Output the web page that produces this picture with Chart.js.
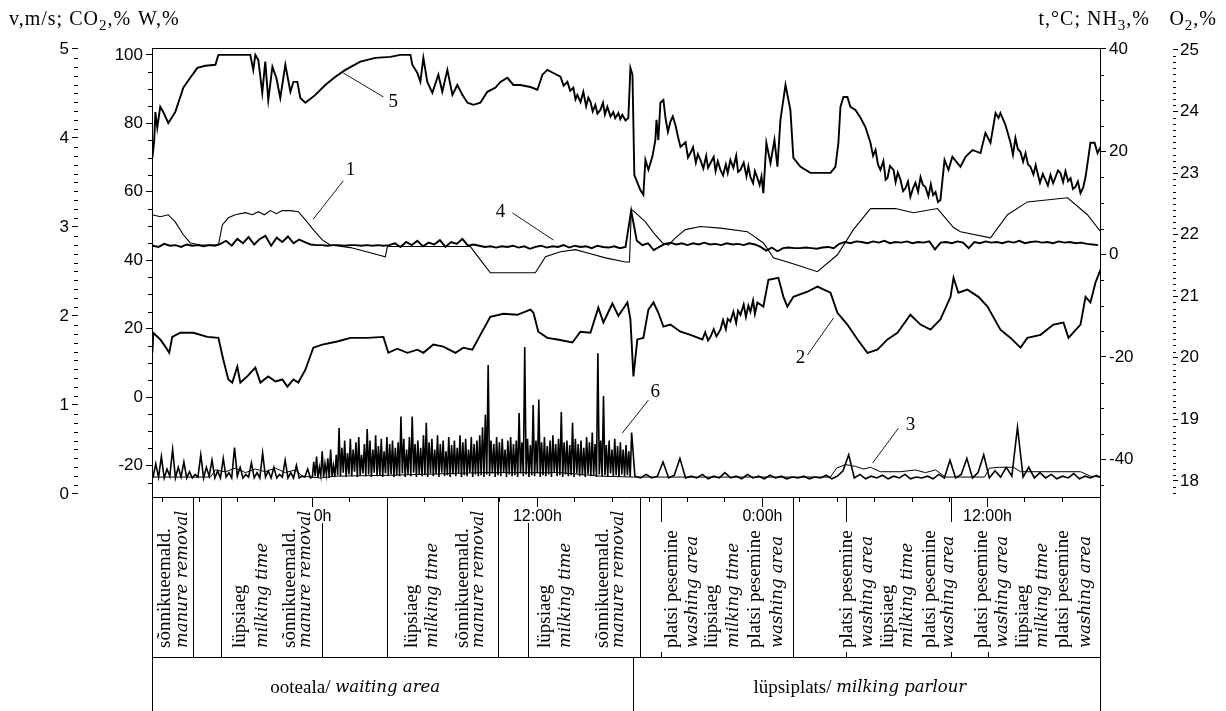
<!DOCTYPE html>
<html>
<head>
<meta charset="utf-8">
<script src="https://cdn.jsdelivr.net/npm/chart.js"></script>
<style>
  body { margin: 0; background: #fff; }
  #wrap { position: relative; width: 1226px; height: 711px; overflow: hidden; }
  #chart { display: block; }
  .ttl { position: absolute; top: 7px; line-height: 22px; font-family: "Liberation Serif", serif; font-size: 20px; letter-spacing: 1px; color: #000; white-space: nowrap; }
  .ttl sub { font-size: 15px; vertical-align: -5px; line-height: 0; }
</style>
</head>
<body>
<div id="wrap">
  <canvas id="chart" width="1226" height="711"></canvas>
  <div class="ttl" style="left:9px">v,m/s; CO<sub>2</sub>,%</div>
  <div class="ttl" style="left:138px">W,%</div>
  <div class="ttl" style="right:76px">t,°C; NH<sub>3</sub>,%</div>
  <div class="ttl" style="right:9px">O<sub>2</sub>,%</div>
</div>
<script>
// x is time in hours counted from the first midnight; the waiting-area run and
// the milking-parlour run are drawn one after the other on the same time line
const hourTicks = [-8, -6, -4, -2, 0, 2, 4, 6, 8, 10, 12, 14, 16, 18, 20, 22, 24, 26, 28, 30, 32, 34, 36, 38, 40, 42];
const hourLabels = { 0: '\u2003 0h', 12: '12:00h', 24: '0:00h', 36: '12:00h' };
const humTicks = [-20, 0, 20, 40, 60, 80, 100];
const speedTicks = [0, 1, 2, 3, 4, 5];
const tempTicks = [-40, -20, 0, 20, 40];
const o2Ticks = [18, 19, 20, 21, 22, 23, 24, 25];

// curve 5 - W,%
const curve5Time = [-8.53,-8.43,-8.37,-8.27,-8.11,-7.95,-7.68,-7.31,-6.88,-6.51,
  -6.13,-5.71,-5.17,-5.01,-3.31,-3.15,-3.04,-2.88,-2.67,-2.51,
  -2.35,-2.13,-1.92,-1.71,-1.44,-1.17,-1.01,-0.8,-0.64,-0.37,
  0.16,0.69,1.23,1.76,2.56,3.36,4.16,4.69,5.23,5.33,
  5.6,5.76,5.92,6.13,6.4,6.72,6.93,7.2,7.47,7.73,
  8.0,8.27,8.59,8.96,9.33,9.76,10.03,10.4,10.72,11.09,
  11.63,12.0,12.27,12.53,12.85,
  13.23,13.4,13.6,13.75,13.92,14.03,14.13,14.3,14.45,14.6,
  14.72,14.83,14.95,15.09,15.2,15.36,15.5,15.6,15.73,15.9,
  16.05,16.15,16.32,16.42,16.53,16.7,16.85,
  16.96,17.07,17.17,17.49,17.65,17.76,17.92,18.13,18.29,18.35,18.45,18.56,18.72,
  18.83,18.96,19.09,19.22,19.36,19.5,19.63,19.9,20.03,20.16,
  20.3,20.45,20.56,20.69,20.85,21.0,21.1,21.23,21.4,21.5,
  21.62,21.76,21.9,22.05,22.15,22.29,22.45,22.6,22.7,22.83,
  23.0,23.15,23.25,23.36,23.5,23.6,23.73,23.85,23.95,24.05,
  24.21,24.43,24.64,24.8,24.96,25.23,25.49,25.65,26.03,26.56,
  27.09,27.63,27.89,28.05,28.16,28.32,28.53,28.69,28.96,29.23,29.49,
  29.76,29.9,30.03,30.16,30.29,30.45,30.57,30.67,30.8,30.99,
  31.1,31.22,31.36,31.5,31.63,31.76,31.89,32.03,32.16,32.3,
  32.43,32.56,32.69,32.85,32.98,33.1,33.23,33.36,33.49,
  33.71,33.92,34.13,34.56,34.83,35.2,35.63,35.89,36.16,36.43,36.59,36.69,36.96,
  37.23,37.36,37.49,37.62,37.76,37.9,38.03,38.16,38.29,38.45,
  38.57,38.67,38.8,38.95,39.09,39.22,39.36,39.5,39.63,39.76,
  39.89,40.03,40.16,40.3,40.43,40.56,40.69,40.82,40.96,41.1,41.23,
  41.49,41.71,41.87,42.03];
const curve5 = [69.9,75.1,83.3,78.7,84.8,83.3,80.1,83.3,90.4,93.3,
  96.2,96.8,97.1,100,100,95.6,100,98.5,88.9,98.0,
  86.8,96.5,93.3,87.4,97.1,89.2,92.1,92.1,87.4,86.0,
  88.3,91.2,93.6,95.6,98.0,99.1,99.4,100,100,97.1,
  94.7,92.1,99.1,92.1,88.9,94.2,89.2,95.6,88.3,91.2,
  88.3,86.0,85.4,86.0,89.2,90.4,92.1,93.3,91.2,91.2,
  90.6,89.8,94.2,95.6,94.7,
  93.6,91.0,92.1,89.5,90.4,87.0,88.3,86.2,89.2,85.0,
  87.5,86.3,83.5,85.4,82.8,83.9,86.0,82.6,84.8,82.0,
  83.3,81.5,83.0,81.2,82.5,80.8,81.6,
  96.2,94.2,64.9,60.5,59.1,69.3,66.4,70.2,75.1,81.0,75.1,86.0,86.8,
  81.6,77.5,80.4,82.0,79.5,76.0,73.1,74.5,70.0,71.3,
  73.0,68.5,71.0,69.3,66.8,70.5,67.0,68.4,70.2,66.0,
  68.9,66.4,64.8,68.0,65.5,69.3,67.0,70.5,65.8,66.4,
  68.5,64.5,67.4,64.3,62.5,66.0,64.0,62.0,64.5,59.6,
  74.3,68.4,75.1,67.3,81.0,91.2,83.9,69.9,67.3,65.5,
  65.5,65.5,67.3,74.3,84.8,87.7,87.7,84.8,83.9,81.6,78.9,
  74.3,70.5,72.2,68.0,66.4,69.0,63.5,64.0,67.5,66.4,
  62.8,65.6,63.5,60.2,61.1,63.0,58.5,61.0,62.6,60.0,
  64.3,62.0,61.4,58.6,62.2,59.0,59.9,57.0,57.6,
  69.3,66.4,70.2,67.3,70.2,72.2,71.3,77.2,74.3,83.0,81.6,83.0,79.5,
  74.3,70.8,75.7,72.5,71.6,68.8,71.3,68.0,67.3,65.0,
  67.8,65.5,62.6,65.2,63.5,61.8,64.9,62.5,64.3,66.2,
  65.5,62.8,66.0,63.1,64.0,60.8,61.4,63.0,59.6,61.2,64.3,
  74.3,74.3,71.3,73.1];

// curve 2 - right axis
const curve2Time = [-8.53,-8.48,-8.11,-7.84,-7.63,-7.47,-7.04,-6.35,-5.6,-5.01,
  -4.75,-4.48,-4.27,-4.0,-3.84,-3.47,-3.04,-2.77,-2.35,-1.97,
  -1.6,-1.33,-1.01,-0.75,-0.37,0.05,0.53,1.33,2.03,2.93,
  3.79,4.05,4.53,5.07,5.6,5.92,6.45,6.99,7.63,8.05,
  8.53,8.96,9.49,10.19,10.93,11.63,11.79,12.05,12.53,13.07,
  13.87,14.29,14.83,15.25,15.52,16.0,16.32,16.8,16.96,17.12,
  17.33,17.65,17.92,18.19,18.45,18.72,19.09,19.63,20.16,
  20.8,20.95,21.1,21.23,21.4,21.55,21.76,21.9,22.05,22.15,
  22.29,22.45,22.6,22.7,22.83,23.0,23.12,23.25,23.36,23.5,
  23.6,23.73,
  24.05,24.32,24.85,25.12,
  25.33,25.65,26.4,26.93,27.63,28.0,28.53,29.07,29.6,30.13,
  30.67,31.2,31.89,32.43,32.96,33.49,34.03,34.19,34.45,34.93,
  35.52,36.0,36.69,37.23,37.76,38.13,38.83,39.52,40.05,40.32,
  40.96,41.23,41.49,41.76,42.03];
const curve2 = [-19.2,-15.3,-16.6,-18.0,-19.2,-16.1,-15.3,-15.3,-16.1,-16.3,
  -20.5,-24.4,-25.0,-21.9,-25.0,-23.8,-22.1,-25.0,-23.8,-24.8,
  -24.4,-25.8,-24.4,-25.0,-22.5,-18.2,-17.6,-17.0,-16.3,-16.3,
  -16.1,-19.2,-18.4,-19.2,-18.6,-19.2,-17.6,-18.0,-19.2,-18.2,
  -18.6,-15.7,-12.2,-11.6,-11.8,-10.8,-11.4,-15.1,-16.3,-16.6,
  -17.2,-15.1,-15.3,-10.4,-13.3,-9.6,-12.0,-9.4,-12.7,-23.8,
  -16.6,-16.3,-10.8,-9.4,-11.4,-14.1,-13.7,-15.1,-15.7,
  -16.6,-15.2,-16.8,-16.1,-14.6,-16.0,-14.7,-12.8,-14.6,-12.6,
  -13.1,-11.2,-13.4,-11.0,-11.8,-9.8,-12.2,-10.0,-11.2,-9.0,
  -11.6,-9.4,
  -10.2,-5.0,-4.6,-8.3,
  -10.2,-8.3,-7.3,-6.3,-7.5,-11.4,-13.7,-16.6,-19.2,-18.6,
  -16.6,-15.3,-11.8,-13.7,-14.7,-12.7,-8.3,-4.6,-7.5,-6.9,
  -8.3,-10.2,-14.7,-16.3,-18.2,-16.3,-15.7,-13.7,-13.3,-16.3,
  -13.7,-8.3,-9.4,-5.5,-3.0];

// curve 1 - t,°C
const curve1Time = [-8.53,-8.11,-7.68,-7.31,-6.88,-6.51,-5.97,-5.01,-4.8,-4.48,
  -4.11,-3.57,-3.2,-2.88,-2.56,-2.24,-1.92,-1.6,-1.17,-0.75,
  -0.37,0.05,0.53,0.96,2.03,3.09,3.89,4.0,8.43,8.96,
  9.49,11.89,12.43,13.23,14.03,14.83,15.63,16.69,16.91,17.01,
  17.17,17.76,18.19,18.67,18.99,19.36,19.89,20.69,21.76,23.2,
  24.05,24.59,25.76,26.93,28.0,28.85,29.76,31.09,32.05,33.33,
  34.19,34.56,36.16,37.07,38.13,40.27,41.33,42.03];
const curve1 = [7.7,7.3,7.7,6.3,3.8,2.2,1.8,1.8,5.7,7.1,
  7.7,8.1,7.7,8.3,7.7,8.5,7.9,8.5,8.5,8.3,
  6.7,4.8,2.8,1.8,1.3,0.3,-0.5,1.5,1.5,-1.1,
  -3.6,-3.6,-0.5,0.5,0.9,0.1,-0.7,-1.5,-1.5,8.7,
  8.3,6.3,4.2,2.2,1.8,3.2,4.8,5.4,5.1,4.4,
  2.2,-0.7,-2.0,-3.4,-0.1,4.8,8.9,8.9,8.1,8.9,
  5.2,4.4,3.2,7.7,10.2,11.0,7.7,4.4];

// curve 3 - left outer axis
const curve3Time = [-8.53,-5.44,-5.17,-4.64,-4.11,-3.57,-3.04,-2.51,-1.97,-1.44,
  -0.91,-0.53,0.43,1.23,4.16,8.96,13.23,15.36,17.12,27.63,
  27.95,28.43,28.96,29.39,29.76,30.29,31.36,32.16,32.69,33.23,
  33.76,35.84,36.11,36.64,37.39,37.76,40.96,41.49,42.03];
const curve3 = [0.19,0.19,0.27,0.25,0.29,0.24,0.28,0.25,0.29,0.24,
  0.27,0.2,0.18,0.2,0.21,0.24,0.24,0.2,0.19,0.19,
  0.29,0.33,0.31,0.28,0.3,0.25,0.25,0.27,0.24,0.27,
  0.19,0.19,0.29,0.3,0.3,0.25,0.25,0.2,0.19];

// curve 4 - O2,%, read every 0.3 h
const curve4Start = -8.5, curve4Step = 0.3;
const curve4 = [21.82,21.80,21.85,21.82,21.83,21.80,21.84,21.82,21.83,21.81,21.83,21.82,
  21.85,21.90,21.82,21.93,21.86,21.96,21.84,21.93,21.98,21.82,21.95,21.88,21.97,21.86,21.92,21.88,
  21.84,21.83,21.83,21.82,21.83,21.83,21.82,21.83,21.83,21.82,21.83,21.82,21.83,21.82,21.83,
  21.86,21.80,21.88,21.83,21.90,21.81,21.87,21.84,21.91,21.80,21.88,21.85,21.93,21.82,21.84,
  21.82,21.80,21.81,21.79,21.81,21.80,21.82,21.79,21.81,21.77,21.80,21.82,21.79,21.81,21.80,
  21.83,21.79,21.82,21.80,21.81,21.78,21.82,21.80,21.79,21.81,21.78,21.80,
  22.39,
  21.90,21.83,21.86,21.75,21.80,
  21.85,21.87,21.84,21.86,21.83,21.86,21.84,21.87,21.84,21.85,21.83,21.86,21.84,21.85,21.83,21.86,21.84,
  21.80,21.74,21.79,21.73,
  21.78,21.79,21.78,21.78,21.79,21.78,21.77,21.79,21.80,
  21.78,21.85,21.88,21.86,21.89,
  21.88,21.86,21.89,21.87,21.90,21.86,21.88,21.87,21.89,21.86,21.88,21.87,21.89,21.76,21.87,
  21.88,21.86,21.89,21.87,21.78,21.88,21.86,21.89,21.87,21.88,21.86,21.89,21.87,21.90,21.86,
  21.88,21.89,21.87,21.88,21.86,21.89,21.87,21.88,21.86,21.87,21.85,21.84,21.83];

// curve 6 - v,m/s: evening part read every 0.15 h, busy part every 0.075 h,
// milking parlour every 0.3 h
const curve6aStart = -8.5, curve6aStep = 0.15;
const curve6a = [0.18,0.34,0.19,0.42,0.18,0.28,0.2,0.5,0.18,0.3,0.19,0.36,0.18,0.25,0.18,0.22,0.19,0.44,0.18,0.3,0.2,0.38,
  0.18,0.26,0.18,0.4,0.19,0.24,0.18,0.52,0.2,0.3,0.18,0.22,0.19,0.35,0.18,0.24,0.18,0.46,0.19,0.26,
  0.18,0.3,0.18,0.22,0.19,0.38,0.18,0.24,0.18,0.32,0.18,0.2,0.19,0.28,0.18];
const curve6bStart = 0, curve6bStep = 0.075;
const curve6b = [0.19,0.36,0.2,0.42,0.18,0.3,0.21,0.48,0.19,0.34,0.22,0.4,0.18,0.5,0.2,0.32,0.19,0.44,0.21,0.74,
  0.2,0.52,0.24,0.6,0.19,0.46,0.22,0.62,0.2,0.5,0.25,0.58,0.19,0.64,0.21,0.44,0.23,0.56,0.2,0.73,
  0.22,0.6,0.19,0.5,0.24,0.66,0.2,0.54,0.21,0.62,0.19,0.48,0.23,0.64,0.2,0.56,0.22,0.6,0.19,0.52,
  0.21,0.58,0.2,0.87,0.23,0.62,0.19,0.5,0.22,0.64,0.2,0.87,0.24,0.56,0.19,0.6,0.22,0.52,0.2,0.66,
  0.21,0.8,0.19,0.58,0.23,0.62,0.2,0.5,0.22,0.66,0.19,0.56,0.24,0.6,0.2,0.48,0.21,0.64,0.19,0.55,
  0.22,0.6,0.2,0.52,0.23,0.66,0.19,0.58,0.21,0.62,0.2,0.5,0.24,0.64,0.19,0.56,0.22,0.6,0.2,0.66,
  0.21,0.75,0.19,0.89,0.22,1.45,0.2,0.6,0.23,0.56,0.19,0.64,0.21,0.58,0.2,0.62,0.24,0.5,0.19,0.6,
  0.22,0.64,0.2,0.56,0.21,0.6,0.19,0.91,0.23,0.58,0.2,1.65,0.22,0.62,0.19,0.55,0.21,1.0,0.2,0.6,
  0.23,1.06,0.19,0.58,0.21,0.64,0.2,0.54,0.22,0.6,0.19,0.66,0.24,0.56,0.2,0.62,0.21,0.92,0.19,0.58,
  0.22,0.6,0.2,0.55,0.21,0.8,0.19,0.62,0.23,0.56,0.2,0.6,0.21,0.52,0.19,0.64,0.22,0.58,0.2,0.69,
  0.21,0.56,0.19,1.58,0.22,0.6,0.2,1.1,0.21,0.55,0.19,0.6,0.23,0.5,0.2,0.62,0.21,0.54,0.19,0.58,
  0.22,0.5,0.2,0.55,0.21,0.48,0.19,0.69];
const curve6cStart = 17.2, curve6cStep = 0.3;
const curve6c = [0.2,0.18,0.22,0.18,0.2,0.36,0.18,0.21,0.4,0.18,
  0.2,0.18,0.22,0.17,0.2,0.18,0.24,0.18,0.2,0.17,
  0.22,0.18,0.2,0.17,0.21,0.18,0.2,0.17,0.19,0.18,
  0.2,0.17,0.19,0.18,0.21,0.17,0.2,0.26,0.44,0.18,
  0.22,0.17,0.2,0.18,0.21,0.17,0.2,0.18,0.22,0.17,
  0.19,0.18,0.2,0.17,0.22,0.18,0.38,0.18,0.22,0.4,
  0.18,0.24,0.44,0.18,0.26,0.19,0.3,0.2,0.75,0.19,
  0.3,0.18,0.24,0.18,0.22,0.17,0.2,0.18,0.23,0.17,
  0.2,0.18,0.21,0.18];

// table under the time axis (positions in hours)
const columnLines = [-6.35, -4.85, 4.0, 9.92, 17.49, 25.65];
const halfLines = [0.53, 11.52];
const markLines = [18.61, 28.43, 34.03];
const markFeet = [18.61, 28.43, 34.03, 36.05];
const areaSplit = 17.12;
const eventLabels = [
  [-7.84, 'sõnnikueemald.', false], [-6.93, 'manure removal', true],
  [-3.84, 'lüpsiaeg', false], [-2.67, 'milking time', true],
  [-1.17, 'sõnnikueemald.', false], [-0.37, 'manure removal', true],
  [5.33, 'lüpsiaeg', false], [6.4, 'milking time', true],
  [8.05, 'sõnnikueemald.', false], [8.85, 'manure removal', true],
  [12.43, 'lüpsiaeg', false], [13.49, 'milking time', true],
  [15.52, 'sõnnikueemald.', false], [16.32, 'manure removal', true],
  [19.2, 'platsi pesemine', false], [20.27, 'washing area', true],
  [21.33, 'lüpsiaeg', false], [22.45, 'milking time', true],
  [23.63, 'platsi pesemine', false], [24.8, 'washing area', true],
  [28.53, 'platsi pesemine', false], [29.6, 'washing area', true],
  [30.67, 'lüpsiaeg', false], [31.73, 'milking time', true],
  [32.96, 'platsi pesemine', false], [33.92, 'washing area', true],
  [35.73, 'platsi pesemine', false], [36.8, 'washing area', true],
  [37.87, 'lüpsiaeg', false], [38.93, 'milking time', true],
  [40.05, 'platsi pesemine', false], [41.23, 'washing area', true]
];
const areaLabels = [[-2.24, 'ooteala/ ', 'waiting area'], [23.52, 'lüpsiplats/ ', 'milking parlour']];

// curve numbers with leader lines, in hours and W,% units
const callouts = [
  { n: '1', at: [2.03, 66.4], from: [1.65, 63.2], to: [0.05, 52.0] },
  { n: '5', at: [4.32, 86.3], from: [3.79, 87.7], to: [1.65, 94.7] },
  { n: '4', at: [10.03, 54.1], from: [10.67, 53.8], to: [12.85, 45.9] },
  { n: '2', at: [26.03, 11.4], from: [26.4, 12.3], to: [27.79, 23.1] },
  { n: '3', at: [31.89, -8.2], from: [31.25, -9.1], to: [29.87, -19.3] },
  { n: '6', at: [18.29, 1.5], from: [17.92, -0.9], to: [16.53, -10.5] }
];

function series(times, vals) {
  return times.map((t, i) => ({ x: t, y: vals[i] }));
}
function sampled(start, step, vals) {
  return vals.map((v, i) => ({ x: start + i * step, y: v }));
}

const tickFont = { family: '"Liberation Sans", Arial, sans-serif', size: 17 };
const xTickFont = { family: '"Liberation Sans", Arial, sans-serif', size: 16 };
const upright = '19px "Liberation Serif", serif';
const slanted = 'italic 16.5px "DejaVu Serif", serif';

const decor = {
  id: 'decor',
  afterDraw(chart) {
    const { ctx, chartArea: a, scales: s } = chart;
    const px = h => s.x.getPixelForValue(h);
    const snap = v => Math.round(v) + 0.5;
    const seg = (x1, y1, x2, y2) => { ctx.beginPath(); ctx.moveTo(x1, y1); ctx.lineTo(x2, y2); ctx.stroke(); };
    const vline = (h, y1, y2) => { const x = snap(px(h)); seg(x, y1, x, y2); };

    ctx.save();
    ctx.strokeStyle = '#000';
    ctx.fillStyle = '#000';
    ctx.lineWidth = 1;

    seg(a.left, snap(a.top), a.right, snap(a.top));

    // minor ticks
    for (let i = 1; i < 50; i++) {
      if (i % 10) { const y = snap(s.yV.getPixelForValue(i / 10)); seg(s.yV.right - 4, y, s.yV.right, y); }
    }
    for (let v = -25; v <= 100; v += 5) {
      if (v % 20) { const y = snap(s.yW.getPixelForValue(v)); seg(a.left - 4, y, a.left, y); }
    }
    for (let v = -45; v <= 40; v += 5) {
      if (v % 20) { const y = snap(s.yT.getPixelForValue(v)); seg(a.right, y, a.right + 4, y); }
    }
    for (let i = 178; i < 250; i++) {
      if (i % 10) { const y = snap(s.yO.getPixelForValue(i / 10)); seg(s.yO.left, y, s.yO.left + 3, y); }
    }
    [0, 12, 24, 36].forEach(h => vline(h, a.bottom, a.bottom + 10));

    // table
    const rowY = a.bottom + 160, endY = chart.height;
    seg(snap(a.left), a.bottom, snap(a.left), endY);
    seg(snap(a.right), a.bottom, snap(a.right), endY);
    seg(a.left, snap(rowY), a.right, snap(rowY));
    columnLines.forEach(h => vline(h, a.bottom, rowY));
    halfLines.forEach(h => vline(h, a.bottom + 26, rowY));
    markLines.forEach(h => vline(h, a.bottom, a.bottom + 25));
    markFeet.forEach(h => vline(h, rowY - 5, rowY));
    vline(areaSplit, rowY, endY);

    ctx.textAlign = 'left';
    ctx.textBaseline = 'middle';
    for (const [h, txt, italic] of eventLabels) {
      ctx.save();
      ctx.translate(px(h), a.bottom + 151);
      ctx.rotate(-Math.PI / 2);
      ctx.font = italic ? slanted : upright;
      ctx.fillText(txt, 0, 0);
      ctx.restore();
    }
    for (const [h, plain, ital] of areaLabels) {
      let x0 = px(h);
      ctx.font = upright;
      ctx.fillText(plain, x0, rowY + 31);
      x0 += ctx.measureText(plain).width;
      ctx.font = slanted;
      ctx.fillText(ital, x0, rowY + 31);
    }

    // curve numbers
    ctx.lineWidth = 0.9;
    ctx.textAlign = 'center';
    ctx.font = '19px "Liberation Serif", serif';
    for (const c of callouts) {
      seg(px(c.from[0]), s.yW.getPixelForValue(c.from[1]), px(c.to[0]), s.yW.getPixelForValue(c.to[1]));
      ctx.fillText(c.n, px(c.at[0]), s.yW.getPixelForValue(c.at[1]));
    }
    ctx.restore();
  }
};

function yAxis(position, min, max, ticks, width, extra) {
  return Object.assign({
    position, min, max,
    afterBuildTicks: sc => { sc.ticks = ticks.map(v => ({ value: v })); },
    afterFit: sc => { sc.width = width; },
    grid: { drawOnChartArea: false, tickLength: 6, color: '#000' },
    border: { color: '#000', width: 1 },
    ticks: { font: tickFont, color: '#000', padding: 3 }
  }, extra || {});
}

const line = (data, axis, width) => ({
  data, yAxisID: axis, borderColor: '#000', borderWidth: width,
  pointRadius: 0, tension: 0, fill: false
});

const curve6 = sampled(curve6aStart, curve6aStep, curve6a)
  .concat(sampled(curve6bStart, curve6bStep, curve6b))
  .concat(sampled(curve6cStart, curve6cStep, curve6c));

new Chart(document.getElementById('chart'), {
  type: 'line',
  data: {
    datasets: [
      line(series(curve5Time, curve5), 'yW', 1.9),
      line(series(curve2Time, curve2), 'yT', 1.9),
      line(series(curve1Time, curve1), 'yT', 1.1),
      line(sampled(curve4Start, curve4Step, curve4), 'yO', 1.9),
      line(curve6, 'yV', 1.6),
      line(series(curve3Time, curve3), 'yV', 1)
    ]
  },
  options: {
    responsive: false,
    animation: false,
    devicePixelRatio: 1,
    layout: { padding: { top: 48, left: 0, right: 0, bottom: 0 } },
    plugins: { legend: { display: false }, tooltip: { enabled: false } },
    scales: {
      x: {
        type: 'linear', position: 'bottom', min: -8.55, max: 42.0,
        afterBuildTicks: sc => { sc.ticks = hourTicks.map(v => ({ value: v })); },
        afterFit: sc => { sc.height = 214; },
        grid: { drawOnChartArea: false, tickLength: 5, color: '#000' },
        border: { color: '#000', width: 1 },
        ticks: { font: xTickFont, color: '#000', padding: 5, autoSkip: false, maxRotation: 0,
          callback: v => hourLabels[v] || '' }
      },
      yW: yAxis('left', -29.2, 102, humTicks, 74),
      yV: yAxis('left', -0.034, 5.011, speedTicks, 78, { border: { display: false } }),
      yT: yAxis('right', -47.3, 40.19, tempTicks, 73),
      yO: yAxis('right', 17.74, 25.03, o2Ticks, 53, {
        border: { display: false },
        grid: { drawOnChartArea: false, tickLength: 5, color: '#000' },
        ticks: { font: tickFont, color: '#000', padding: 2 }
      })
    }
  },
  plugins: [decor]
});
</script>
</body>
</html>
